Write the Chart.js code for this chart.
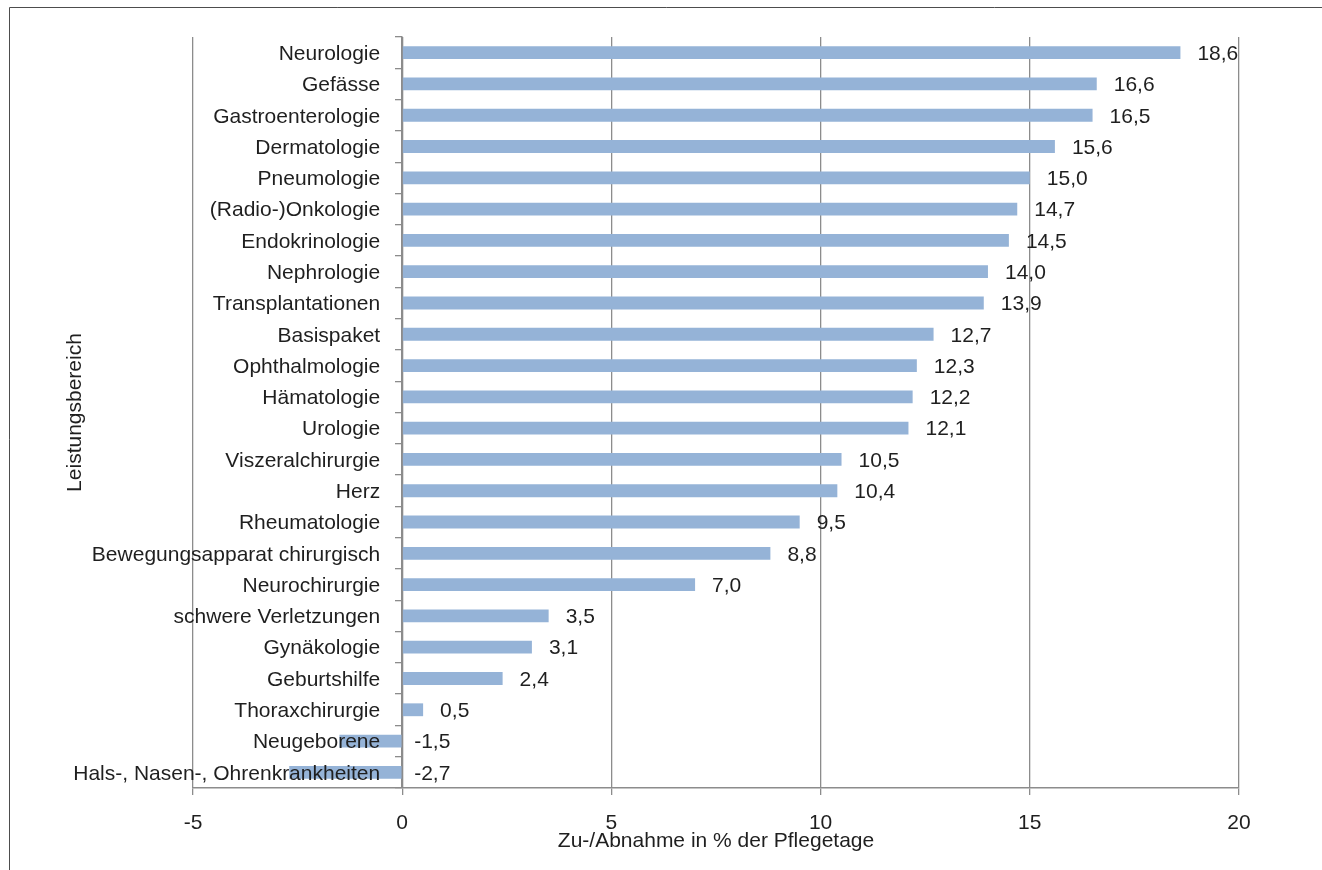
<!DOCTYPE html>
<html lang="de">
<head>
<meta charset="utf-8">
<title>Zu-/Abnahme der Pflegetage nach Leistungsbereich</title>
<script src="https://cdn.jsdelivr.net/npm/chart.js@4.4.1/dist/chart.umd.min.js"></script>
<style>
  html, body { margin: 0; padding: 0; background: #ffffff; }
  #wrap { position: relative; width: 1322px; height: 870px; }
  canvas { display: block; }
</style>
</head>
<body>
<div id="wrap"><canvas id="chart" width="1322" height="870"></canvas></div>
<script>
// Leistungsbereiche, von oben nach unten
const categories = [
  'Neurologie', 'Gefässe', 'Gastroenterologie', 'Dermatologie', 'Pneumologie',
  '(Radio-)Onkologie', 'Endokrinologie', 'Nephrologie', 'Transplantationen',
  'Basispaket', 'Ophthalmologie', 'Hämatologie', 'Urologie', 'Viszeralchirurgie',
  'Herz', 'Rheumatologie', 'Bewegungsapparat chirurgisch', 'Neurochirurgie',
  'schwere Verletzungen', 'Gynäkologie', 'Geburtshilfe', 'Thoraxchirurgie',
  'Neugeborene', 'Hals-, Nasen-, Ohrenkrankheiten'
];

// Zu-/Abnahme in % der Pflegetage
const changePercent = [
  18.6, 16.6, 16.5, 15.6, 15.0,
  14.7, 14.5, 14.0, 13.9,
  12.7, 12.3, 12.2, 12.1, 10.5,
  10.4, 9.5, 8.8, 7.0,
  3.5, 3.1, 2.4, 0.5,
  -1.5, -2.7
];

// Achsenbereich und Schrittweite der Wertachse
const xTicks = { min: -5, max: 20, step: 5 };

const axisTitleX = 'Zu-/Abnahme in % der Pflegetage';
const axisTitleY = 'Leistungsbereich';

const FONT = '"Liberation Sans", Arial, Helvetica, sans-serif';
const TEXT = '#1f1f1f';
const GRID = '#8c8c8c';
const BAR = '#95b3d7';

// Abstand der Kategorienbeschriftung von der Nulllinie
const CATEGORY_LABEL_GAP = 22;

Chart.defaults.font.family = FONT;
Chart.defaults.font.size = 21;
Chart.defaults.color = TEXT;

const fmt = v => v.toFixed(1).replace('.', ',');

// Die an der Nulllinie verankerte Kategorienachse setzt ihre Beschriftung
// direkt an die Linie; hier wird sie um Strichlänge plus Abstand nach links gerückt.
const categoryLabelGap = {
  id: 'categoryLabelGap',
  afterLayout(chart) {
    const items = chart.scales.y.getLabelItems();
    items.forEach(item => { item.options.translation[0] -= CATEGORY_LABEL_GAP; });
  }
};

// Wertbeschriftungen rechts neben den Balken
const valueLabels = {
  id: 'valueLabels',
  afterDatasetsDraw(chart) {
    const { ctx } = chart;
    const meta = chart.getDatasetMeta(0);
    const zero = chart.scales.x.getPixelForValue(0);
    ctx.save();
    ctx.font = '21px ' + FONT;
    ctx.fillStyle = TEXT;
    ctx.textAlign = 'left';
    ctx.textBaseline = 'middle';
    meta.data.forEach((bar, i) => {
      const v = changePercent[i];
      const x = v >= 0 ? bar.x + 17 : zero + 12;
      ctx.fillText(fmt(v), x, bar.y + 1.5);
    });
    ctx.restore();
  }
};

// Rahmen und senkrechter Achsentitel
const frame = {
  id: 'frame',
  beforeDraw(chart) {
    const { ctx } = chart;
    ctx.save();
    ctx.fillStyle = '#ffffff';
    ctx.fillRect(0, 0, chart.width, chart.height);
    ctx.strokeStyle = '#4d4d4d';
    ctx.lineWidth = 1;
    ctx.beginPath();
    ctx.moveTo(9.5, chart.height + 5);
    ctx.lineTo(9.5, 7.5);
    ctx.lineTo(chart.width + 5, 7.5);
    ctx.stroke();
    ctx.restore();
  },
  afterDraw(chart) {
    const { ctx, chartArea } = chart;
    ctx.save();
    ctx.font = '21px ' + FONT;
    ctx.fillStyle = TEXT;
    ctx.textAlign = 'center';
    ctx.textBaseline = 'middle';
    ctx.translate(75, (chartArea.top + chartArea.bottom) / 2);
    ctx.rotate(-Math.PI / 2);
    ctx.fillText(axisTitleY, 0, 0);
    ctx.restore();
  }
};

new Chart(document.getElementById('chart'), {
  type: 'bar',
  data: {
    labels: categories,
    datasets: [{
      data: changePercent,
      backgroundColor: BAR,
      borderWidth: 0,
      categoryPercentage: 1,
      barPercentage: 0.41
    }]
  },
  options: {
    indexAxis: 'y',
    responsive: false,
    animation: false,
    devicePixelRatio: 1,
    layout: { padding: { left: 193, right: 83, top: 37, bottom: 0.6 } },
    plugins: {
      legend: { display: false },
      tooltip: { enabled: false }
    },
    scales: {
      x: {
        type: 'linear',
        position: 'bottom',
        min: xTicks.min,
        max: xTicks.max,
        ticks: {
          stepSize: xTicks.step,
          padding: 16,
          color: TEXT,
          font: { size: 21 },
          callback: v => String(v)
        },
        grid: {
          color: GRID,
          lineWidth: 1.3,
          tickLength: 7,
          drawTicks: true
        },
        border: { display: true, color: GRID, width: 1.5 },
        title: {
          display: true,
          text: axisTitleX,
          color: TEXT,
          font: { size: 21 },
          padding: { top: -24, bottom: 16 }
        }
      },
      y: {
        type: 'category',
        position: { x: 0 },
        offset: true,
        ticks: {
          padding: 16,
          labelOffset: 1.5,
          color: TEXT,
          font: { size: 21 },
          autoSkip: false,
          z: 1
        },
        grid: {
          offset: true,
          drawOnChartArea: false,
          drawTicks: true,
          tickLength: 6,
          color: GRID,
          lineWidth: 1.3
        },
        border: { display: true, color: GRID, width: 1.5 }
      }
    }
  },
  plugins: [categoryLabelGap, frame, valueLabels]
});
</script>
</body>
</html>
